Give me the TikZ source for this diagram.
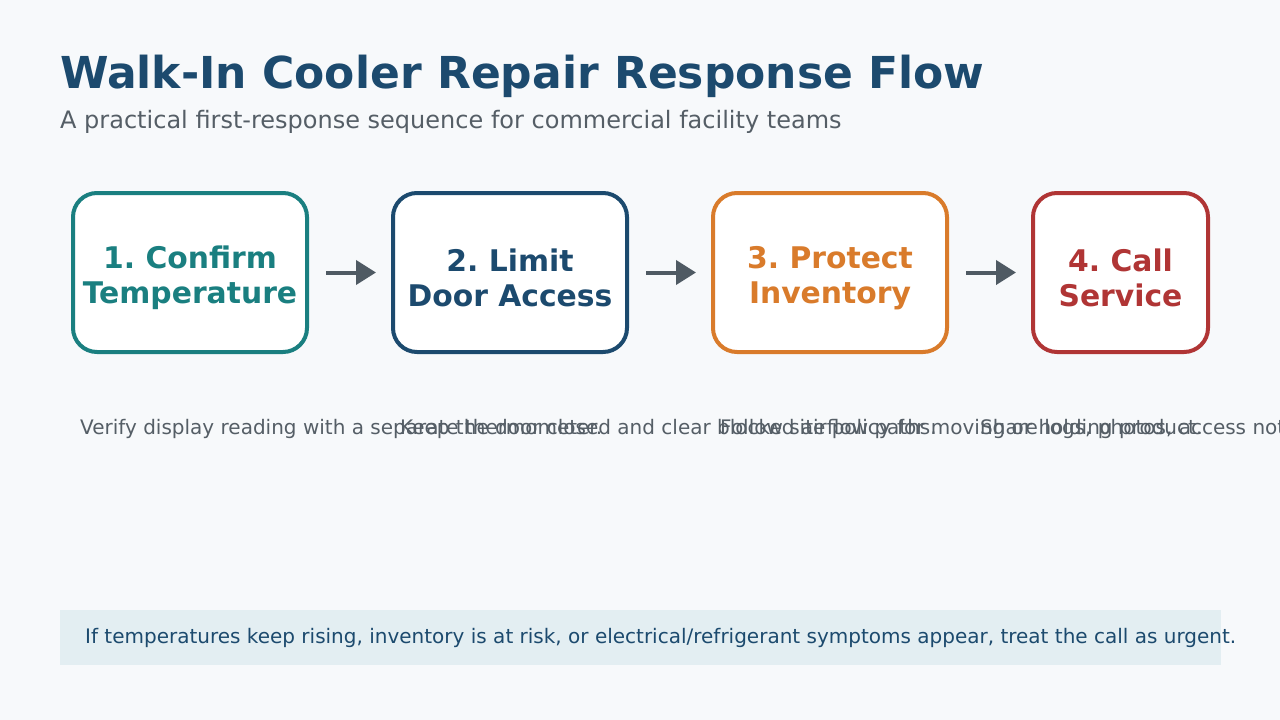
\documentclass[tikz,border=0pt]{standalone}
\usepackage{fontspec}
\setmainfont{DejaVu Sans}
\usetikzlibrary{arrows.meta}
\frenchspacing
\definecolor{bgc}{HTML}{F7F9FB}
\definecolor{navy}{HTML}{1C4A6E}
\definecolor{teal}{HTML}{1A7F80}
\definecolor{orng}{HTML}{D97B2B}
\definecolor{redc}{HTML}{B03535}
\definecolor{greyt}{HTML}{555E66}
\definecolor{arrowc}{HTML}{4F5A63}
\definecolor{bandc}{HTML}{E3EEF2}
\newcommand{\topstrut}{\rule{0pt}{33pt}}
\tikzset{
  stepbox/.style={draw=#1, text=#1, fill=white, line width=4pt, rounded corners=24pt,
    minimum height=159pt, align=center, font=\fontsize{29.8}{34.5}\selectfont\bfseries, inner sep=0pt},
  flowarrow/.style={draw=arrowc, line width=4pt, -{Triangle[length=20pt,width=24pt]},
    shorten <=17pt, shorten >=15pt},
  desc/.style={anchor=base west, text=greyt, font=\fontsize{20}{24}\selectfont, inner sep=0pt},
}
\begin{document}
\begin{tikzpicture}[x=1pt,y=-1pt]
\useasboundingbox (0,0) rectangle (1280,720);
\fill[bgc] (0,0) rectangle (1280,720);
\node[anchor=base west, inner sep=0pt, text=navy, font=\fontsize{44}{50}\selectfont\bfseries] (title) at (60,88) {Walk-In Cooler Repair Response Flow};
\node[anchor=base west, inner sep=0pt, text=greyt, font=\fontsize{24}{28}\selectfont] (sub) at (60,128) {A practical first-response sequence for commercial facility teams};

\node[stepbox=teal, minimum width=234pt] (b1) at (190,272.5) {\topstrut1. Confirm\\Temperature};
\node[stepbox=navy, minimum width=234pt] (b2) at (510,272.5) {\topstrut2. Limit\\Door Access};
\node[stepbox=orng, minimum width=234pt] (b3) at (830,272.5) {\topstrut3. Protect\\Inventory};
\node[stepbox=redc, minimum width=175pt] (b4) at (1120.5,272.5) {\topstrut4. Call\\Service};

\draw[flowarrow] (b1.east) -- (b2.west);
\draw[flowarrow] (b2.east) -- (b3.west);
\draw[flowarrow] (b3.east) -- (b4.west);

\node[desc] (d1) at (80,434) {Verify display reading with a separate thermometer.};
\node[desc] (d2) at (400,434) {Keep the door closed and clear blocked airflow paths.};
\node[desc] (d3) at (720,434) {Follow site policy for moving or holding product.};
\node[desc] (d4) at (980,434) {Share logs, photos, access notes, and symptoms.};

\fill[bandc] (60,610) rectangle (1221,665);
\node[anchor=base west, inner sep=0pt, text=navy, font=\fontsize{20}{24}\selectfont] (note) at (85,643) {If temperatures keep rising, inventory is at risk, or electrical/refrigerant symptoms appear, treat the call as urgent.};
\end{tikzpicture}
\end{document}
